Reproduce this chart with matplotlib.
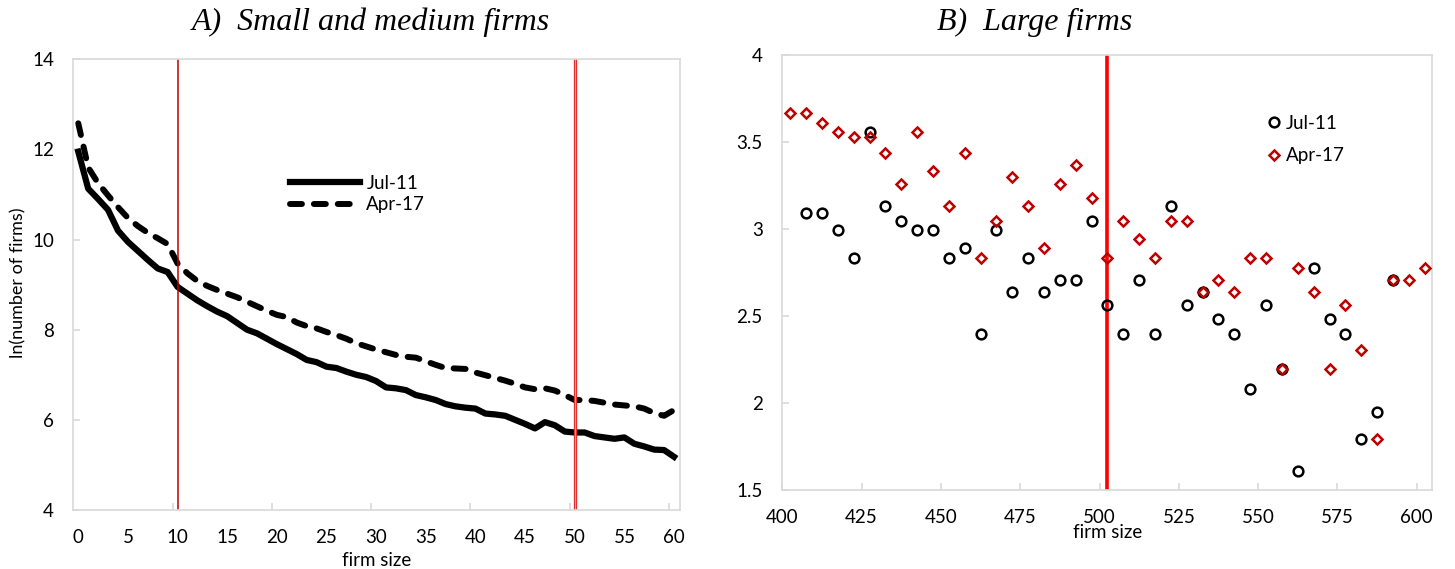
import matplotlib.pyplot as plt
import numpy as np

# panel A: ln(number of firms) by firm size 0..60
firm_size_small = list(range(61))
jul11_small = [11.95, 11.13, 10.90, 10.66, 10.20, 9.95, 9.75, 9.55, 9.36, 9.28,
               8.95, 8.80, 8.65, 8.52, 8.40, 8.30, 8.15, 8.00, 7.92, 7.80,
               7.68, 7.57, 7.46, 7.33, 7.28, 7.18, 7.15, 7.07, 7.00, 6.95,
               6.86, 6.72, 6.70, 6.66, 6.55, 6.50, 6.44, 6.35, 6.30, 6.27,
               6.25, 6.14, 6.12, 6.09, 6.00, 5.91, 5.81, 5.95, 5.88, 5.74,
               5.72, 5.72, 5.64, 5.61, 5.58, 5.61, 5.47, 5.41, 5.34, 5.33,
               5.18]
apr17_small = [12.58, 11.60, 11.25, 10.98, 10.72, 10.48, 10.30, 10.15, 10.03, 9.90,
               9.47, 9.25, 9.08, 8.97, 8.88, 8.80, 8.72, 8.62, 8.52, 8.42,
               8.33, 8.28, 8.16, 8.08, 8.03, 7.95, 7.88, 7.80, 7.70, 7.63,
               7.56, 7.50, 7.44, 7.40, 7.38, 7.30, 7.22, 7.15, 7.14, 7.13,
               7.05, 6.99, 6.93, 6.87, 6.80, 6.72, 6.68, 6.70, 6.65, 6.55,
               6.44, 6.44, 6.42, 6.38, 6.34, 6.32, 6.30, 6.25, 6.15, 6.09,
               6.22]

# panel B: large firms, bins of 5 employees
firm_size_large = [402.5, 407.5, 412.5, 417.5, 422.5, 427.5, 432.5, 437.5, 442.5, 447.5,
                   452.5, 457.5, 462.5, 467.5, 472.5, 477.5, 482.5, 487.5, 492.5, 497.5,
                   502.5, 507.5, 512.5, 517.5, 522.5, 527.5, 532.5, 537.5, 542.5, 547.5,
                   552.5, 557.5, 562.5, 567.5, 572.5, 577.5, 582.5, 587.5, 592.5, 597.5,
                   602.5]
jul11_large = [np.nan, 3.091, 3.091, 2.996, 2.833, 3.555, 3.135, 3.045, 2.996, 2.996,
               2.833, 2.890, 2.398, 2.996, 2.639, 2.833, 2.639, 2.708, 2.708, 3.045,
               2.565, 2.398, 2.708, 2.398, 3.135, 2.565, 2.639, 2.485, 2.398, 2.079,
               2.565, 2.197, 1.609, 2.773, 2.485, 2.398, 1.792, 1.946, 2.708, np.nan,
               np.nan]
apr17_large = [3.664, 3.664, 3.611, 3.555, 3.526, 3.526, 3.434, 3.258, 3.555, 3.332,
               3.135, 3.434, 2.833, 3.045, 3.296, 3.135, 2.890, 3.258, 3.367, 3.178,
               2.833, 3.045, 2.944, 2.833, 3.045, 3.045, 2.639, 2.708, 2.639, 2.833,
               2.833, 2.197, 2.773, 2.639, 2.197, 2.565, 2.303, 1.792, 2.708, 2.708,
               2.773]

plt.rcParams['font.family'] = ['Lato', 'DejaVu Sans']
fs = 13.5
grey = '#d9d9d9'
W, H = 1455, 569

fig = plt.figure(figsize=(W / 100, H / 100), dpi=100)


def px_axes(x0, y0, x1, y1):
    return fig.add_axes([x0 / W, 1 - y1 / H, (x1 - x0) / W, (y1 - y0) / H])


def style(ax):
    for s in ax.spines.values():
        s.set_color(grey)
        s.set_linewidth(1.2)
    ax.tick_params(which='both', direction='in', color=grey, width=1.2,
                   length=5, labelsize=fs, pad=14)


# ---- A) small and medium firms
ax1 = px_axes(73.3, 59.3, 680, 510)
style(ax1)
ax1.plot(firm_size_small, jul11_small, color='black', lw=4.5,
         solid_joinstyle='round', label='Jul-11')
ax1.plot(firm_size_small, apr17_small, color='black', lw=4.3,
         dashes=(2.0, 2.0), dash_capstyle='round', label='Apr-17')
ax1.axvline(10, color='#c00000', lw=1.1)
ax1.axvline(50, color='#e03030', lw=2.4)
ax1.axvline(50, color='#f4b0b0', lw=0.6)
ax1.set_xlim(-0.5, 60.6)
ax1.set_ylim(4, 14)
ax1.set_xticks(range(0, 61, 5))
ax1.set_xticks([9.5, 19.5, 29.5, 39.5, 49.5, 59.5], minor=True)
ax1.tick_params(axis='x', which='major', length=0)
ax1.set_yticks(range(4, 15, 2))
ax1.text(0.5, -0.111, 'firm size', transform=ax1.transAxes, ha='center',
         va='center', fontsize=13.5)
fig.text(18 / W, 1 - 283 / H, 'ln(number of firms)', rotation=90,
         ha='center', va='center', fontsize=13)
ax1.legend(loc='center left', bbox_to_anchor=(281 / W, 1 - 194 / H),
           bbox_transform=fig.transFigure, frameon=False, fontsize=fs,
           handlelength=3.7, handletextpad=0.35, borderpad=0,
           labelspacing=0.25)

# ---- B) large firms
ax2 = px_axes(782.3, 55, 1432, 490)
style(ax2)
ax2.axvline(502.5, color='#ff0000', lw=2.6, zorder=1)
ax2.plot(firm_size_large, jul11_large, ls='none', marker='o', ms=7,
         mfc='none', mec='black', mew=1.8, label='Jul-11', zorder=3)
ax2.plot(firm_size_large, apr17_large, ls='none', marker='D', ms=5.6,
         mfc='none', mec='#c00000', mew=1.8, label='Apr-17', zorder=3)
ax2.set_xlim(400, 604.8)
ax2.set_ylim(1.5, 4)
ax2.set_xticks(range(400, 601, 25))
ax2.set_yticks([1.5, 2, 2.5, 3, 3.5, 4])
ax2.set_yticklabels(['1.5', '2', '2.5', '3', '3.5', '4'])
ax2.text(0.5, -0.097, 'firm size', transform=ax2.transAxes, ha='center',
         va='center', fontsize=13.5)
ax2.legend(loc='center left', bbox_to_anchor=(1255 / W, 1 - 139.5 / H),
           bbox_transform=fig.transFigure, frameon=False, fontsize=fs,
           handlelength=1.0, handletextpad=0.15, borderpad=0,
           labelspacing=0.85)

# titles
title_font = dict(family='Liberation Serif', style='italic', fontsize=23,
                  ha='center', va='center')
fig.text(371 / W, 1 - 22 / H, 'A)  Small and medium firms', **title_font)
fig.text(1035 / W, 1 - 22 / H, 'B)  Large firms', **title_font)

fig.savefig('out.png', dpi=100)
